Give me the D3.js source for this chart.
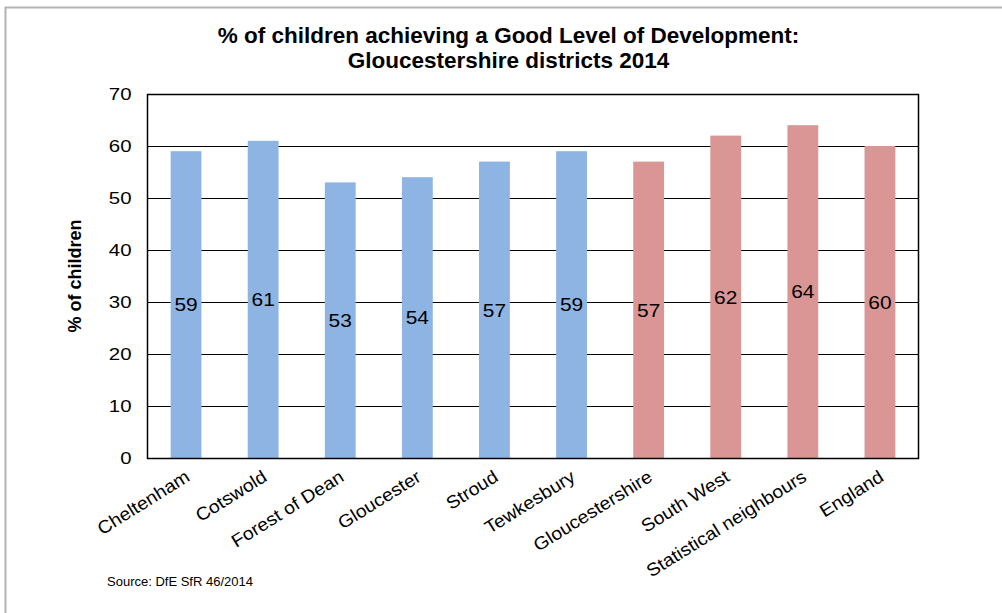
<!DOCTYPE html>
<html><head><meta charset="utf-8">
<script src="https://cdn.jsdelivr.net/npm/d3@7"></script>
<style>body{margin:0;background:#fff}svg{display:block}text{font-family:"Liberation Sans",Arial,sans-serif}</style>
</head><body>
<svg id="c" width="1002" height="613"></svg>
<script>
const categories = ["Cheltenham","Cotswold","Forest of Dean","Gloucester","Stroud","Tewkesbury","Gloucestershire","South West","Statistical neighbours","England"];
const values = [59,61,53,54,57,59,57,62,64,60];
const groups = ["district","district","district","district","district","district","comparator","comparator","comparator","comparator"];
const yTicks = [0,10,20,30,40,50,60,70];
const titleLines = ["% of children achieving a Good Level of Development:","Gloucestershire districts 2014"];
const yTitle = "% of children";
const source = "Source: DfE SfR 46/2014";

const svg = d3.select("#c");
const L = 147.5, R = 918.5, T = 94, B = 458;
const x = d3.scaleBand().domain(categories).range([L, R]).paddingInner(0.6).paddingOuter(0.3);
const y = d3.scaleLinear().domain([0,70]).range([B, T]);
const color = d3.scaleOrdinal().domain(["district","comparator"]).range(["#8EB4E3","#D99694"]);

// outer border
svg.append("rect").attr("x",5.5).attr("y",7.5).attr("width",1100).attr("height",700)
  .attr("fill","none").attr("stroke","#b3b3b3").attr("stroke-width",2);

// title
svg.append("text").attr("text-anchor","middle")
  .style("font-size","22.5px").style("font-weight","bold")
  .selectAll("tspan").data(titleLines).join("tspan")
  .attr("x",508.5).attr("y",(d,i)=>43+i*25).text(d=>d);

// gridlines
svg.append("g").selectAll("line").data(yTicks).join("line")
  .attr("x1",L).attr("x2",R).attr("y1",d=>Math.round(y(d))+0.5).attr("y2",d=>Math.round(y(d))+0.5)
  .attr("stroke","#000").attr("stroke-width",1);

// bars
svg.append("g").selectAll("rect").data(categories).join("rect")
  .attr("x",d=>x(d)).attr("width",x.bandwidth())
  .attr("y",(d,i)=>y(values[i])).attr("height",(d,i)=>B-y(values[i]))
  .attr("fill",(d,i)=>color(groups[i]));

// plot border
svg.append("rect").attr("x",L).attr("y",T+0.5).attr("width",R-L).attr("height",B-T)
  .attr("fill","none").attr("stroke","#000").attr("stroke-width",1.5);

// y axis
const tsx = 1.2;
const yAxis = d3.axisLeft(y).tickValues(yTicks).tickSize(0).tickPadding(16);
const ya = svg.append("g").attr("transform",`translate(${L},0.5)`).call(yAxis);
ya.select(".domain").remove();
ya.selectAll("text").style("font-size","17px").style("font-family","Liberation Sans, Arial, sans-serif").attr("fill","#000")
  .attr("x",-16/tsx).attr("transform",`scale(${tsx},1)`);

// x axis labels
const xAxis = d3.axisBottom(x).tickSize(0).tickPadding(0);
const xa = svg.append("g").attr("transform",`translate(0,${B})`).call(xAxis);
xa.select(".domain").remove();
xa.selectAll("text").style("font-size","18px").style("font-family","Liberation Sans, Arial, sans-serif").attr("fill","#000")
  .attr("text-anchor","end").attr("dy",null).attr("y",0)
  .attr("transform","translate(5,22) rotate(-32) scale(1.08,1)");

// data labels
svg.append("g").selectAll("text").data(categories).join("text")
  .attr("transform",(d,i)=>`translate(${x(d)+x.bandwidth()/2},${(y(values[i])+B)/2}) scale(1.1,1)`)
  .attr("dy","0.36em").attr("text-anchor","middle").style("font-size","19px")
  .text((d,i)=>values[i]);

// y title
svg.append("text").attr("transform",`translate(81,${(T+B)/2}) rotate(-90)`)
  .attr("text-anchor","middle").style("font-size","18px").style("font-weight","bold").text(yTitle);

// source
svg.append("text").attr("x",107).attr("y",586).style("font-size","13px").text(source);
</script>
</body></html>
